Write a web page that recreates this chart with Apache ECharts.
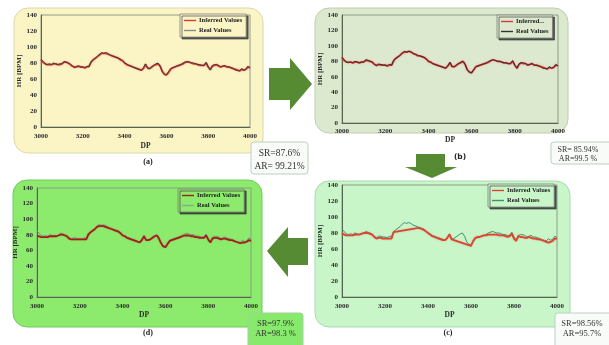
<!DOCTYPE html>
<html>
<head>
<meta charset="utf-8">
<script src="https://cdn.jsdelivr.net/npm/echarts@6/dist/echarts.min.js"></script>
<style>
  html, body { margin: 0; padding: 0; background: #fff; }
  #chart { width: 609px; height: 345px; }
</style>
</head>
<body>
<div id="chart"></div>
<script>
// DP sample positions (x axis)
const dp = [
  3000, 3010, 3020, 3030, 3040, 3050, 3060, 3070, 3080, 3090,
  3100, 3110, 3120, 3130, 3140, 3150, 3160, 3170, 3180, 3190,
  3200, 3210, 3220, 3230, 3240, 3250, 3260, 3270, 3280, 3290,
  3300, 3310, 3320, 3330, 3340, 3350, 3360, 3370, 3380, 3390,
  3400, 3410, 3420, 3430, 3440, 3450, 3460, 3470, 3480, 3490,
  3500, 3510, 3520, 3530, 3540, 3550, 3560, 3570, 3580, 3590,
  3600, 3610, 3620, 3630, 3640, 3650, 3660, 3670, 3680, 3690,
  3700, 3710, 3720, 3730, 3740, 3750, 3760, 3770, 3780, 3790,
  3800, 3810, 3820, 3830, 3840, 3850, 3860, 3870, 3880, 3890,
  3900, 3910, 3920, 3930, 3940, 3950, 3960, 3970, 3980, 3990,
  4000
]

// real HR, same in all four panels
const realHR = [
  85, 82, 79, 78, 79, 78, 80, 79, 78, 79,
  79, 82, 81, 80, 79, 76, 74, 76, 76, 75,
  75, 74, 76, 75, 82, 84, 86, 88, 91, 93,
  92, 93, 92, 90, 89, 88, 87, 86, 85, 83,
  80, 79, 77, 76, 75, 74, 73, 72, 71, 74,
  79, 73, 73, 75, 77, 79, 80, 76, 69, 66,
  65, 69, 73, 74, 75, 76, 77, 78, 80, 81,
  82, 81, 80, 80, 79, 78, 78, 77, 77, 81,
  75, 71, 77, 78, 78, 77, 75, 76, 77, 75,
  75, 74, 73, 71, 71, 70, 73, 71, 72, 76,
  74
]

const inferredA = [
  84, 81, 79, 78, 78, 78, 79, 79, 78, 78,
  79, 81, 81, 80, 78, 76, 75, 75, 76, 75,
  75, 74, 75, 76, 81, 84, 86, 88, 90, 92,
  92, 92, 91, 90, 89, 88, 87, 86, 84, 83,
  80, 78, 77, 76, 75, 74, 73, 72, 71, 73,
  78, 74, 73, 75, 77, 78, 79, 76, 70, 66,
  65, 68, 72, 74, 75, 76, 77, 78, 79, 81,
  81, 81, 80, 79, 79, 78, 77, 77, 77, 80,
  75, 72, 76, 77, 78, 76, 75, 76, 76, 75,
  75, 74, 73, 72, 71, 70, 72, 71, 72, 75,
  74
]

const inferredB = [
  85, 81, 79, 79, 79, 78, 79, 79, 78, 79,
  79, 81, 81, 80, 79, 76, 75, 76, 75, 75,
  75, 74, 75, 75, 81, 84, 86, 88, 91, 92,
  92, 93, 92, 90, 89, 87, 87, 86, 85, 83,
  80, 79, 77, 76, 75, 74, 73, 72, 71, 74,
  78, 73, 73, 75, 77, 78, 80, 76, 69, 66,
  65, 69, 73, 74, 75, 76, 77, 78, 79, 81,
  82, 81, 80, 80, 79, 78, 78, 77, 77, 80,
  75, 71, 76, 78, 77, 77, 75, 76, 77, 75,
  75, 74, 73, 72, 71, 70, 72, 71, 72, 75,
  74
]

// gaps (null) are where the inferred line bridges straight across
const inferredC = [
  80, 78, 77, 77, 77, 77, 78, 78, 78, 79,
  80, 80, 80, 79, 78, 75, 73, 74, 74, 73,
  73, 73, 73, 73, 81, null, null, null, null, null,
  null, null, null, null, null, 86, 86, 85, 84, 82,
  80, 78, 76, 75, 74, 73, 72, 71, 71, 74,
  78, 72, null, null, null, null, null, null, null, null,
  64, 70, 74, 75, 75, 76, 77, 77, 78, 78,
  78, 78, 78, 77, 77, 77, 76, 75, 76, 79,
  73, 70, 76, 75, 75, 74, 74, 75, 74, 73,
  73, 72, 72, 71, 70, 69, 68, 69, 70, 73,
  73
]

const inferredD = [
  78, 78, 77, 77, 77, 77, 78, 78, 78, 78,
  79, 80, 80, 79, 78, 75, 74, 74, 74, 74,
  74, 74, 74, 74, 80, 83, 85, 87, 90, 91,
  91, 91, 90, 89, 88, 87, 86, 85, 84, 82,
  79, 78, 76, 75, 74, 73, 72, 71, 70, 73,
  78, 73, 73, 74, 76, 78, 79, 75, 69, 65,
  64, 68, 72, 73, 74, 75, 76, 77, 78, 79,
  79, 79, 78, 78, 77, 77, 76, 76, 76, 79,
  74, 70, 75, 76, 76, 75, 74, 75, 75, 74,
  73, 73, 72, 71, 70, 69, 70, 70, 71, 73,
  72
]

const hrTicks = [0, 20, 40, 60, 80, 100, 120, 140]
const dpTicks = [3000, 3200, 3400, 3600, 3800, 4000]

const scores = {
  a: ['SR=87.6%', 'AR= 99.21%'],
  b: ['SR= 85.94%', 'AR=99.5 %'],
  c: ['SR=98.56%', 'AR=95.7%'],
  d: ['SR=97.9%', 'AR=98.3 %']
}

const SERIF = '"Liberation Serif", "DejaVu Serif", serif'

const pair = arr => arr.map((v, i) => [dp[i], v])

// per panel layout
const panels = [
  { key: 'a', grid: { left: 41, top: 15, width: 209, height: 112 }, bg: '#fbf5c6', edge: '#dcd8ac',
    box: [14, 8, 249, 145], xGap: 15, xMargin: 6, yGap: 16, inferred: inferredA,
    infColor: '#d83a3a', realColor: '#4a3a34', infLabel: 'Inferred Values',
    legend: { left: 180, top: 14 }, legendBg: '#fbf5c6', realLegend: '#8a8a8a' },
  { key: 'b', grid: { left: 342, top: 15, width: 216, height: 108 }, bg: '#dde9cf', edge: '#bccfb2',
    box: [315, 8, 253, 125], xGap: 10, xMargin: 5, yGap: 17, inferred: inferredB,
    infColor: '#d83a3a', realColor: '#3a2a28', infLabel: 'Inferred...',
    legend: { left: 497, top: 15 }, legendBg: '#dde9cf', realLegend: '#333333' },
  { key: 'c', grid: { left: 342, top: 185, width: 215, height: 112 }, bg: '#c9f6c9', edge: '#a9d9b2',
    box: [315, 181, 255, 146], xGap: 13, xMargin: 6, yGap: 16, inferred: inferredC,
    infColor: '#e0432e', realColor: '#3a9276', infLabel: 'Inferred Values',
    legend: { left: 488, top: 184 }, legendBg: '#c9f6c9', realLegend: '#3a9276' },
  { key: 'd', grid: { left: 37, top: 188, width: 214, height: 109 }, bg: '#8ceb6c', edge: '#74c860',
    box: [13, 180, 249, 147], xGap: 14, xMargin: 6, yGap: 15, inferred: inferredD,
    infColor: '#a01e1e', realColor: '#6f9a78', infLabel: 'Inferred Values',
    legend: { left: 178, top: 189 }, legendBg: '#8ceb6c', realLegend: '#8aa890' }
]

const labelStyle = { fontFamily: SERIF, fontSize: 7, fontWeight: 'bold', color: '#2a2a2a' }

const grids = [], xAxes = [], yAxes = [], series = [], legends = []
const names = {}

panels.forEach((p, i) => {
  grids.push(Object.assign({ show: true, borderColor: '#8c9c88', borderWidth: 1,
    backgroundColor: 'transparent' }, p.grid))

  xAxes.push({
    type: 'value', gridIndex: i, min: dpTicks[0], max: dpTicks[dpTicks.length - 1],
    interval: dpTicks[1] - dpTicks[0],
    name: 'DP', nameLocation: 'middle', nameGap: p.xGap,
    nameTextStyle: Object.assign({}, labelStyle, { fontSize: 7.5 }),
    axisLine: { show: true, onZero: false, lineStyle: { color: '#56664e', width: 1 } },
    axisTick: { show: false },
    splitLine: { show: false },
    axisLabel: Object.assign({ margin: p.xMargin, formatter: v => String(v) }, labelStyle)
  })

  yAxes.push({
    type: 'value', gridIndex: i, min: hrTicks[0], max: hrTicks[hrTicks.length - 1],
    interval: hrTicks[1] - hrTicks[0],
    name: 'HR [BPM]', nameLocation: 'middle', nameGap: p.yGap, nameRotate: 90,
    nameTextStyle: Object.assign({}, labelStyle, { fontSize: 7 }),
    axisLine: { show: true, lineStyle: { color: '#56664e', width: 1 } },
    axisTick: { show: false },
    splitLine: { show: false },
    axisLabel: Object.assign({ margin: 4 }, labelStyle)
  })

  const infName = 'inf_' + p.key
  const realName = 'real_' + p.key
  names[infName] = p.infLabel
  names[realName] = 'Real Values'

  series.push({
    name: infName, type: 'line', xAxisIndex: i, yAxisIndex: i,
    data: pair(p.inferred), symbol: 'none', connectNulls: true, z: 2,
    lineStyle: { color: p.infColor, width: 1.8, shadowColor: 'rgba(220,60,60,0.35)', shadowBlur: 2 },
    itemStyle: { color: p.infColor }
  })
  series.push({
    name: realName, type: 'line', xAxisIndex: i, yAxisIndex: i,
    data: pair(realHR), symbol: 'none', z: p.key === 'c' || p.key === 'd' ? 1 : 3,
    lineStyle: { color: p.realColor, width: 1 },
    itemStyle: { color: p.realColor }
  })

  legends.push({
    data: [
      { name: infName, icon: 'rect', itemStyle: { color: p.infColor } },
      { name: realName, icon: 'rect', itemStyle: { color: p.realLegend } }
    ],
    left: p.legend.left, top: p.legend.top,
    orient: 'vertical', itemGap: 3, itemWidth: 12, itemHeight: 1.4,
    padding: [3, 4, 3, 4],
    backgroundColor: p.legendBg, borderColor: '#7d7d7d', borderWidth: 0.8,
    shadowColor: 'rgba(40,40,40,0.75)', shadowOffsetX: 2, shadowOffsetY: 2, shadowBlur: 0,
    selectedMode: false,
    formatter: n => names[n],
    textStyle: { fontFamily: SERIF, fontSize: 6.5, fontWeight: 'bold', color: '#222', padding: [0, 0, 0, -2] }
  })
})

// decorations: panel boxes, arrows, score boxes, captions
const graphics = []

panels.forEach(p => {
  graphics.push({
    type: 'rect', z: -10,
    shape: { x: p.box[0], y: p.box[1], width: p.box[2], height: p.box[3], r: 14 },
    style: { fill: p.bg, stroke: p.edge, lineWidth: 1 }
  })
})

const arrowGreen = '#568a33'
graphics.push({ // (a) -> (b)
  type: 'polygon', z: 5,
  shape: { points: [[269, 68], [290, 68], [290, 58], [312, 84], [290, 110], [290, 100], [269, 100]] },
  style: { fill: arrowGreen }
})
graphics.push({ // (b) -> (c)
  type: 'polygon', z: 5,
  shape: { points: [[416, 154], [445, 154], [445, 167], [457, 167], [432, 178], [405, 167], [416, 167]] },
  style: { fill: arrowGreen }
})
graphics.push({ // (c) -> (d)
  type: 'polygon', z: 5,
  shape: { points: [[308, 238], [288, 238], [288, 227], [267, 251], [288, 277], [288, 265], [308, 265]] },
  style: { fill: arrowGreen }
})

const scoreBoxes = [
  { key: 'a', x: 251, y: 142, w: 57, h: 32, fill: '#f8fbf8', stroke: '#b9d0c2', size: 9.5, gap: 13 },
  { key: 'b', x: 551, y: 142, w: 62, h: 22, fill: '#f8fbf8', stroke: '#b9d0c2', size: 8, gap: 9 },
  { key: 'c', x: 555, y: 313, w: 58, h: 36, fill: '#f8fbf8', stroke: '#b9d0c2', size: 8.5, gap: 10 },
  { key: 'd', x: 248, y: 313, w: 55, h: 36, fill: '#88ea6c', stroke: '#9fd39a', size: 8.5, gap: 10 }
]
scoreBoxes.forEach(b => {
  const cx = b.x + b.w / 2
  const top = b.key === 'a' ? b.y + 11 : b.key === 'b' ? b.y + 8 : b.y + 11
  graphics.push({
    type: 'rect', z: 6,
    shape: { x: b.x, y: b.y, width: b.w, height: b.h, r: 3 },
    style: { fill: b.fill, stroke: b.stroke, lineWidth: 1 }
  })
  const cxText = b.key === 'b' || b.key === 'c' ? b.x + 27 : cx
  scores[b.key].forEach((t, k) => {
    graphics.push({
      type: 'text', z: 7,
      style: { text: t, x: cxText, y: top + k * b.gap, align: 'center', verticalAlign: 'middle',
        font: b.size + 'px ' + SERIF, fill: '#333' }
    })
  })
})

const captions = [
  { t: '(a)', x: 148, y: 162, font: 'bold 8px ' + SERIF },
  { t: '(b)', x: 460, y: 157, font: 'bold 7.5px "DejaVu Sans", sans-serif' },
  { t: '(c)', x: 448, y: 333, font: 'bold 8px ' + SERIF },
  { t: '(d)', x: 148, y: 333, font: 'bold 8px ' + SERIF }
]
captions.forEach(c => {
  graphics.push({
    type: 'text', z: 7,
    style: { text: c.t, x: c.x, y: c.y, align: 'center', verticalAlign: 'middle', font: c.font, fill: '#222' }
  })
})

const chart = echarts.init(document.getElementById('chart'), null, { renderer: 'canvas' })
chart.setOption({
  animation: false,
  backgroundColor: '#ffffff',
  grid: grids,
  xAxis: xAxes,
  yAxis: yAxes,
  legend: legends,
  series: series,
  graphic: graphics
})
</script>
</body>
</html>
